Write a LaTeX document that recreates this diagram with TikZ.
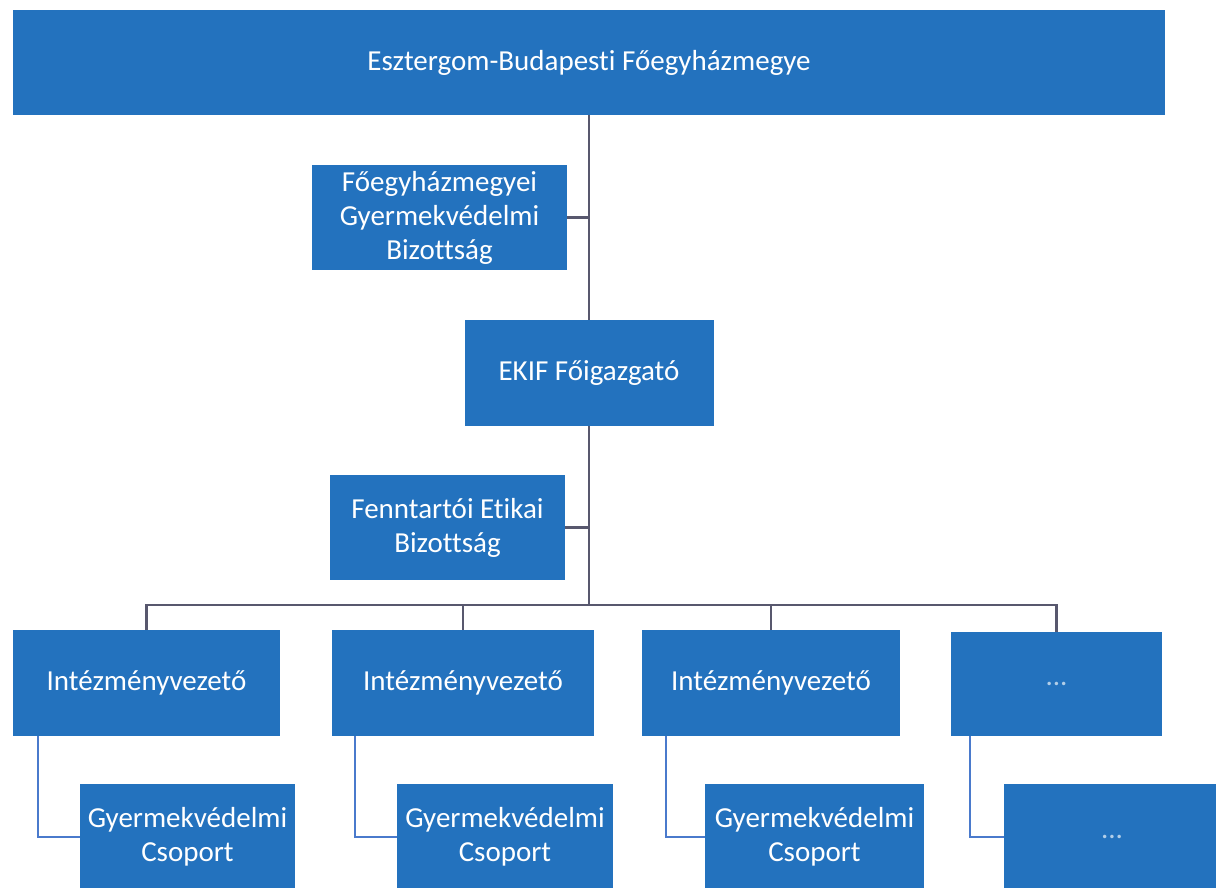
\documentclass[tikz,border=0pt]{standalone}
\usepackage{fontspec}
\setmainfont[Ligatures=NoCommon]{Carlito}
\usepackage{tikz}
\definecolor{boxblue}{RGB}{35,114,190}
\definecolor{linegray}{RGB}{88,88,110}
\definecolor{subblue}{RGB}{74,122,204}
\begin{document}
\begin{tikzpicture}[x=1pt, y=-1pt,
  box/.style={fill=boxblue, text=white, inner sep=0pt, align=center,
    font=\fontsize{29}{34}\selectfont},
  link/.style={draw=linegray, line width=2.2pt},
  sublink/.style={draw=subblue, line width=2.2pt},
  dots/.style={text=white!65!boxblue}]
\useasboundingbox (0,0) rectangle (1216,887);

\node[box, minimum width=1152, minimum height=105] (top) at (589,62.5) {Esztergom-Budapesti Főegyházmegye};
\node[box, minimum width=255, minimum height=105] (fgb) at (439.5,217.5) {Főegyházmegyei\\Gyermekvédelmi\\Bizottság};
\node[box, minimum width=249, minimum height=106] (ekif) at (589,373) {EKIF Főigazgató};
\node[box, minimum width=235, minimum height=105] (feb) at (447.5,527.5) {Fenntartói Etikai\\Bizottság};

\node[box, minimum width=267, minimum height=106] (iv1) at (146.5,683) {Intézményvezető};
\node[box, minimum width=262, minimum height=106] (iv2) at (463,683) {Intézményvezető};
\node[box, minimum width=258, minimum height=106] (iv3) at (771,683) {Intézményvezető};
\node[box, minimum width=211, minimum height=104, dots] (iv4) at (1056.5,684) {...};

\node[box, minimum width=215, minimum height=106] (gy1) at (187.5,837) {Gyermekvédelmi\\Csoport};
\node[box, minimum width=216, minimum height=106] (gy2) at (505,837) {Gyermekvédelmi\\Csoport};
\node[box, minimum width=219, minimum height=106] (gy3) at (814.5,837) {Gyermekvédelmi\\Csoport};
\node[box, minimum width=216, minimum height=106, dots] (gy4) at (1112,837) {...};

\coordinate (bus) at (589,605);
\draw[link] (top.south) -- (top.south |- ekif.north);
\draw[link] (fgb.east) -- (fgb.east -| top.south);
\draw[link] (ekif.south) -- (bus);
\draw[link] (feb.east) -- (feb.east -| bus);
\foreach \n in {iv1,iv2,iv3,iv4}
  \draw[link] (bus) -| (\n.north);

\draw[sublink] ([xshift=25pt]iv1.south west) |- (gy1.west);
\draw[sublink] ([xshift=23pt]iv2.south west) |- (gy2.west);
\draw[sublink] ([xshift=24pt]iv3.south west) |- (gy3.west);
\draw[sublink] ([xshift=19pt]iv4.south west) |- (gy4.west);
\end{tikzpicture}
\end{document}
